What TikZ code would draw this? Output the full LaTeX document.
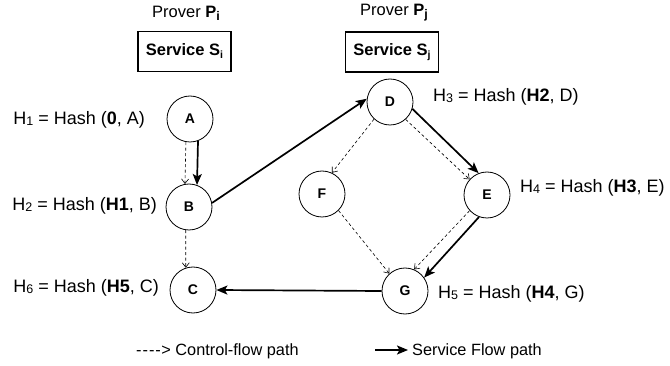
\documentclass[tikz,border=0pt]{standalone}
\usepackage{fontspec}
\setmainfont{Liberation Sans}
\usetikzlibrary{arrows.meta}

% small index digit after H in the hash labels
\newcommand\hidx[1]{\raisebox{-1.2pt}{\fontsize{12.5}{12.5}\selectfont #1}}

\begin{document}
\begin{tikzpicture}[x=1pt,y=-1pt,
  state/.style={circle, draw, line width=0.8pt, minimum size=46pt, inner sep=0pt,
                font=\fontsize{14}{14}\selectfont\bfseries},
  svcbox/.style={draw, line width=1.6pt, minimum width=93pt, minimum height=40pt,
                 inner sep=0pt, font=\fontsize{16.5}{16.5}\selectfont\bfseries},
  prover/.style={inner sep=0pt, font=\fontsize{16.5}{16.5}\selectfont},
  hashlbl/.style={inner sep=0pt, font=\fontsize{18}{18}\selectfont},
  legendtxt/.style={inner sep=0pt, font=\fontsize{16.3}{16.3}\selectfont},
  flow/.style={line width=1.7pt, -{Stealth[length=11pt,width=9pt,inset=2.5pt]}},
  ctrl/.style={line width=0.6pt, dash pattern=on 3pt off 2.5pt,
               -{Straight Barb[length=4.5pt,width=7pt]}}
]
\useasboundingbox (0,0) rectangle (670,366);

% provers and their services
\node[prover] (pi) at (186,13) {Prover \textbf{P}\raisebox{-3pt}{\fontsize{12.5}{12.5}\selectfont\bfseries i}};
\node[prover] (pj) at (394,13) {Prover \textbf{P}\raisebox{-3pt}{\fontsize{12.5}{12.5}\selectfont\bfseries j}};
\node[svcbox] (si) at (184.5,51.5) {Service S\raisebox{-3pt}{\fontsize{10.5}{10.5}\selectfont i}};
\node[svcbox] (sj) at (392,52) {Service S\raisebox{-3pt}{\fontsize{10.5}{10.5}\selectfont j}};

% states
\node[state] (A) at (190,119) {A};
\node[state] (B) at (189,207) {B};
\node[state] (C) at (193,290) {C};
\node[state] (D) at (390,102) {D};
\node[state] (F) at (322,194) {F};
\node[state] (E) at (487,195) {E};
\node[state] (G) at (405,291) {G};

% hash chain labels
\node[hashlbl, anchor=east] (hA) at (145,120) {H\hidx{1} = Hash (\textbf{0}, A)};
\node[hashlbl, anchor=east] (hB) at (157,206) {H\hidx{2} = Hash (\textbf{H1}, B)};
\node[hashlbl, anchor=east] (hC) at (159,288) {H\hidx{6} = Hash (\textbf{H5}, C)};
\node[hashlbl, anchor=west] (hD) at (433,97)  {H\hidx{3} = Hash (\textbf{H2}, D)};
\node[hashlbl, anchor=west] (hE) at (520,188) {H\hidx{4} = Hash (\textbf{H3}, E)};
\node[hashlbl, anchor=west] (hG) at (438,294) {H\hidx{5} = Hash (\textbf{H4}, G)};

% control-flow edges
\draw[ctrl] (A.-100) -- (B.100);
\draw[ctrl] (B.-98) -- (C.108);
\draw[ctrl] (D.-133) -- (F.65);
\draw[ctrl] (D.-48) -- (E.138);
\draw[ctrl] (F.-45) -- (G.132);
\draw[ctrl] (E.-138) -- (G.67);

% service flow
\draw[flow] (A.-70) -- (B.70);
\draw[flow] (B.10) -- (D.172);
\draw[flow] (D.-17) -- (E.111);
\draw[flow] (E.-110) -- (G.35);
\draw[flow] (G.west) -- (C.east);

% legend
\node[legendtxt, anchor=west] (lgc) at (136,351)
  {-\kern1pt-\kern1pt-\kern1pt-\kern0.5pt> Control-flow path};
\coordinate (lfs) at (375,350);
\coordinate (lfe) at (408,350);
\draw[flow] (lfs) -- (lfe);
\node[legendtxt, anchor=west] (lgs) at (412,351) {Service Flow path};
\end{tikzpicture}
\end{document}
